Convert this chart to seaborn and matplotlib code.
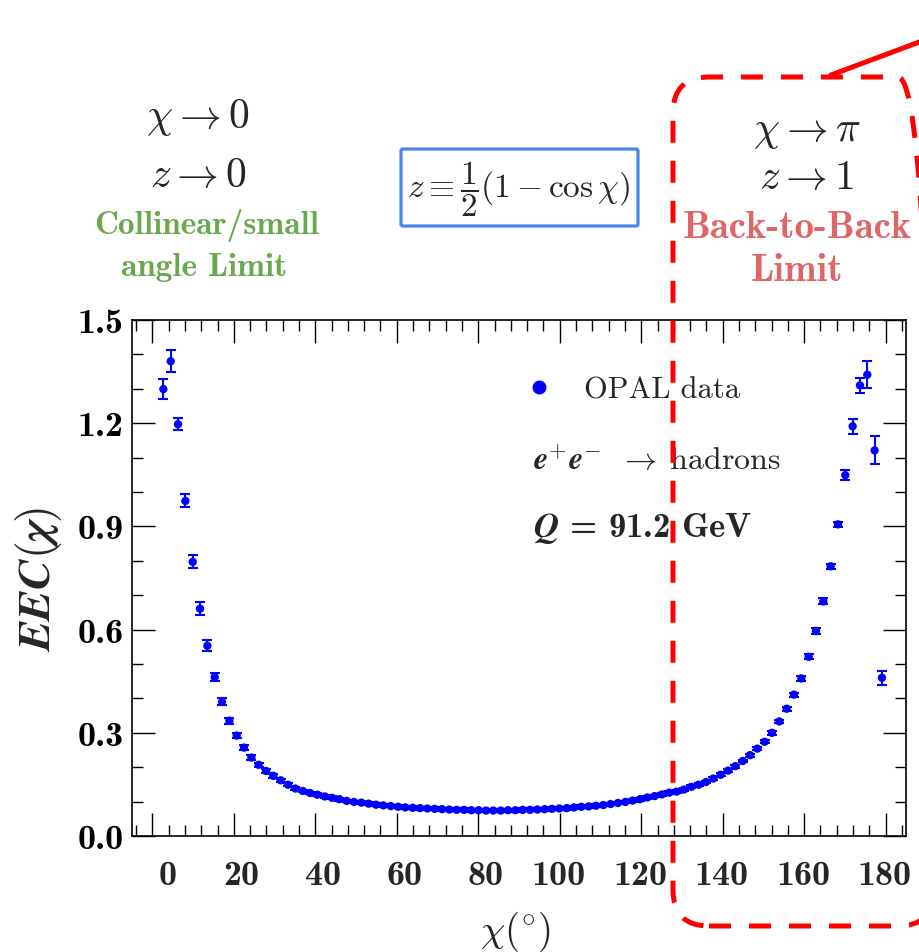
import matplotlib
matplotlib.use("Agg")
import matplotlib.pyplot as plt
import matplotlib.transforms as mtransforms
from matplotlib.patches import FancyBboxPatch
from matplotlib.lines import Line2D
from matplotlib.ticker import MultipleLocator
import pandas as pd
import seaborn as sns

# ---- data: energy-energy correlation vs. opening angle (degrees) ----
chi_deg = [
    2.7, 4.5, 6.3, 8.1, 9.9, 11.7, 13.5, 15.3, 17.1, 18.9,
    20.7, 22.5, 24.3, 26.1, 27.9, 29.7, 31.5, 33.3, 35.1, 36.9,
    38.7, 40.5, 42.3, 44.1, 45.9, 47.7, 49.5, 51.3, 53.1, 54.9,
    56.7, 58.5, 60.3, 62.1, 63.9, 65.7, 67.5, 69.3, 71.1, 72.9,
    74.7, 76.5, 78.3, 80.1, 81.9, 83.7, 85.5, 87.3, 89.1, 90.9,
    92.7, 94.5, 96.3, 98.1, 99.9, 101.7, 103.5, 105.3, 107.1, 108.9,
    110.7, 112.5, 114.3, 116.1, 117.9, 119.7, 121.5, 123.3, 125.1, 126.9,
    128.7, 130.5, 132.3, 134.1, 135.9, 137.7, 139.5, 141.3, 143.1, 144.9,
    146.7, 148.5, 150.3, 152.1, 153.9, 155.7, 157.5, 159.3, 161.1, 162.9,
    164.7, 166.5, 168.3, 170.1, 171.9, 173.7, 175.5, 177.3, 179.1,
]
eec = [
    1.299, 1.380, 1.197, 0.974, 0.797, 0.661, 0.553, 0.462, 0.390, 0.335,
    0.292, 0.257, 0.228, 0.207, 0.189, 0.175, 0.162, 0.149, 0.138, 0.131,
    0.125, 0.120, 0.115, 0.111, 0.107, 0.102, 0.099, 0.097, 0.094, 0.091,
    0.089, 0.087, 0.085, 0.083, 0.082, 0.081, 0.080, 0.079, 0.078, 0.077,
    0.076, 0.076, 0.075, 0.075, 0.074, 0.074, 0.074, 0.075, 0.075, 0.076,
    0.076, 0.077, 0.078, 0.079, 0.080, 0.081, 0.083, 0.085, 0.086, 0.088,
    0.090, 0.093, 0.096, 0.099, 0.103, 0.107, 0.112, 0.116, 0.121, 0.126,
    0.129, 0.135, 0.143, 0.149, 0.157, 0.167, 0.178, 0.190, 0.203, 0.218,
    0.235, 0.254, 0.274, 0.300, 0.333, 0.370, 0.411, 0.458, 0.521, 0.596,
    0.682, 0.784, 0.906, 1.049, 1.191, 1.310, 1.341, 1.121, 0.460,
]
eec_err = [
    0.030, 0.032, 0.018, 0.019, 0.019, 0.018, 0.016, 0.012, 0.010, 0.009,
    0.008, 0.007, 0.007, 0.006, 0.005, 0.005, 0.005, 0.005, 0.004, 0.004,
    0.004, 0.004, 0.004, 0.004, 0.004, 0.004, 0.004, 0.004, 0.004, 0.004,
    0.004, 0.004, 0.004, 0.004, 0.004, 0.004, 0.004, 0.004, 0.004, 0.004,
    0.004, 0.004, 0.004, 0.004, 0.004, 0.004, 0.004, 0.004, 0.004, 0.004,
    0.004, 0.004, 0.004, 0.004, 0.004, 0.004, 0.004, 0.004, 0.004, 0.004,
    0.004, 0.004, 0.004, 0.004, 0.004, 0.004, 0.004, 0.004, 0.004, 0.004,
    0.004, 0.004, 0.004, 0.004, 0.004, 0.004, 0.004, 0.004, 0.004, 0.004,
    0.004, 0.004, 0.005, 0.005, 0.005, 0.006, 0.006, 0.007, 0.007, 0.008,
    0.009, 0.008, 0.008, 0.014, 0.021, 0.021, 0.040, 0.041, 0.021,
]

x_ticks = [0, 20, 40, 60, 80, 100, 120, 140, 160, 180]
y_ticks = [0.0, 0.3, 0.6, 0.9, 1.2, 1.5]

# ---- style ----
sns.set_theme(style="ticks")
plt.rcParams.update({
    "font.family": ["DejaVu Serif"],
    "mathtext.fontset": "cm",
    "axes.edgecolor": "black",
    "axes.linewidth": 1.2,
    "xtick.color": "black",
    "ytick.color": "black",
})
BOLD = "cmb10"     # Computer Modern bold (text)
ROMAN = "cmr10"    # Computer Modern roman (text)

W, H = 919, 953
fig = plt.figure(figsize=(W / 100, H / 100), dpi=100)


def fx(px):
    return px / W


def fy(py):
    return 1 - py / H


ax = fig.add_axes([fx(132), fy(837), fx(906) - fx(132), fy(321) - fy(837)])

df = pd.DataFrame({"chi": chi_deg, "eec": eec, "err": eec_err})
blue = "#0000ff"
ax.errorbar(df["chi"], df["eec"], yerr=df["err"], fmt="none", ecolor=blue,
            elinewidth=1.5, capsize=3.5, capthick=1.5, zorder=2)
sns.scatterplot(data=df, x="chi", y="eec", ax=ax, color=blue, s=36,
                edgecolor="none", linewidth=0, zorder=3, legend=False)

ax.set_xlim(-5, 185)
ax.set_ylim(0, 1.5)
ax.set_xlabel("")
ax.set_ylabel("")

ax.set_xticks(x_ticks)
ax.set_xticklabels([])
ax.xaxis.set_minor_locator(MultipleLocator(4))
ax.set_yticks(y_ticks)
ax.set_yticklabels(["%.1f" % v for v in y_ticks], fontsize=26, fontfamily=BOLD)
ax.yaxis.set_minor_locator(MultipleLocator(0.1))
ax.tick_params(which="both", direction="in", top=True, right=True, width=1.0)
ax.tick_params(which="major", length=16.5)
ax.tick_params(which="minor", length=8)
ax.tick_params(axis="y", which="major", pad=6)

# x tick labels (ROOT-like placement, slightly right of the tick for short numbers)
xlab_trans = mtransforms.blended_transform_factory(ax.transData, ax.transAxes)
shift = {1: 15, 2: 7.5, 3: -1}
for t in x_ticks:
    s = str(t)
    tr = xlab_trans + mtransforms.ScaledTranslation(shift[len(s)] / 100, -24 / 100,
                                                     fig.dpi_scale_trans)
    ax.text(t, 0, s, transform=tr, ha="center", va="top", fontsize=26,
            fontfamily=BOLD)

# axis titles
fig.text(fx(38), fy(580), r"$\mathbfit{EEC}(\mathbfit{\chi})$", rotation=90,
         ha="center", va="center", fontsize=33)
fig.text(fx(515), fy(932), r"$\chi(^{\circ})$", ha="center", va="center",
         fontsize=28)

# legend and process annotations
ax.legend(handles=[Line2D([], [], marker="o", ls="", color=blue, markersize=9)],
          labels=["OPAL data"], prop={"size": 22, "family": ROMAN},
          loc="center left", bbox_to_anchor=(fx(524), fy(391)),
          bbox_transform=fig.transFigure, frameon=False, handlelength=1.0,
          handletextpad=0.95, borderpad=0, borderaxespad=0)
fig.text(fx(533), fy(462),
         r"$\mathbfit{e}^{+}\mathbfit{e}^{-}\;\;\rightarrow\;\mathrm{hadrons}$",
         ha="left", va="center", fontsize=23)
fig.text(fx(533), fy(528), r"$\mathbfit{Q}$ = 91.2 GeV",
         ha="left", va="center", fontsize=25, fontfamily=BOLD)

# limit annotations above the frame
green = "#6aa84f"
salmon = "#e06666"
fig.text(fx(198), fy(117), r"$\chi\rightarrow 0$", ha="center", va="center", fontsize=30)
fig.text(fx(198), fy(175), r"$z\rightarrow 0$", ha="center", va="center", fontsize=30)
fig.text(fx(207), fy(225), "Collinear/small", ha="center", va="center",
         fontsize=24, color=green, fontfamily=BOLD)
fig.text(fx(204), fy(267), "angle Limit", ha="center", va="center",
         fontsize=24, color=green, fontfamily=BOLD)

fig.text(fx(807), fy(130), r"$\chi\rightarrow\pi$", ha="center", va="center", fontsize=30)
fig.text(fx(807), fy(177), r"$z\rightarrow 1$", ha="center", va="center", fontsize=30)
fig.text(fx(797), fy(228), "Back-to-Back", ha="center", va="center",
         fontsize=28, color=salmon, fontfamily=BOLD)
fig.text(fx(797), fy(272), "Limit", ha="center", va="center",
         fontsize=28, color=salmon, fontfamily=BOLD)

# definition of z in a framed box
fig.add_artist(FancyBboxPatch((401 / 100, (H - 227) / 100), 237 / 100, 77 / 100,
                              boxstyle="round,pad=0,rounding_size=0.02",
                              transform=fig.dpi_scale_trans, fill=False,
                              ec="#4a86e8", lw=2.3, zorder=5))
fig.text(fx(519), fy(189), r"$z\equiv\dfrac{1}{2}(1-\cos\chi)$", ha="center",
         va="center", fontsize=24)

# back-to-back region highlight (right side runs past the canvas edge)
fig.add_artist(FancyBboxPatch((673 / 100, (H - 927) / 100), 261 / 100, 849 / 100,
                              boxstyle="round,pad=0,rounding_size=0.36",
                              transform=fig.dpi_scale_trans, fill=False,
                              ec="red", lw=3.6, ls=(0, (4.4, 3.6)), zorder=10))
fig.add_artist(Line2D([831 / 100, 930 / 100], [(H - 76) / 100, (H - 39) / 100],
                      transform=fig.dpi_scale_trans, color="red", lw=3.6, zorder=10))

fig.savefig("out.png", dpi=100)
